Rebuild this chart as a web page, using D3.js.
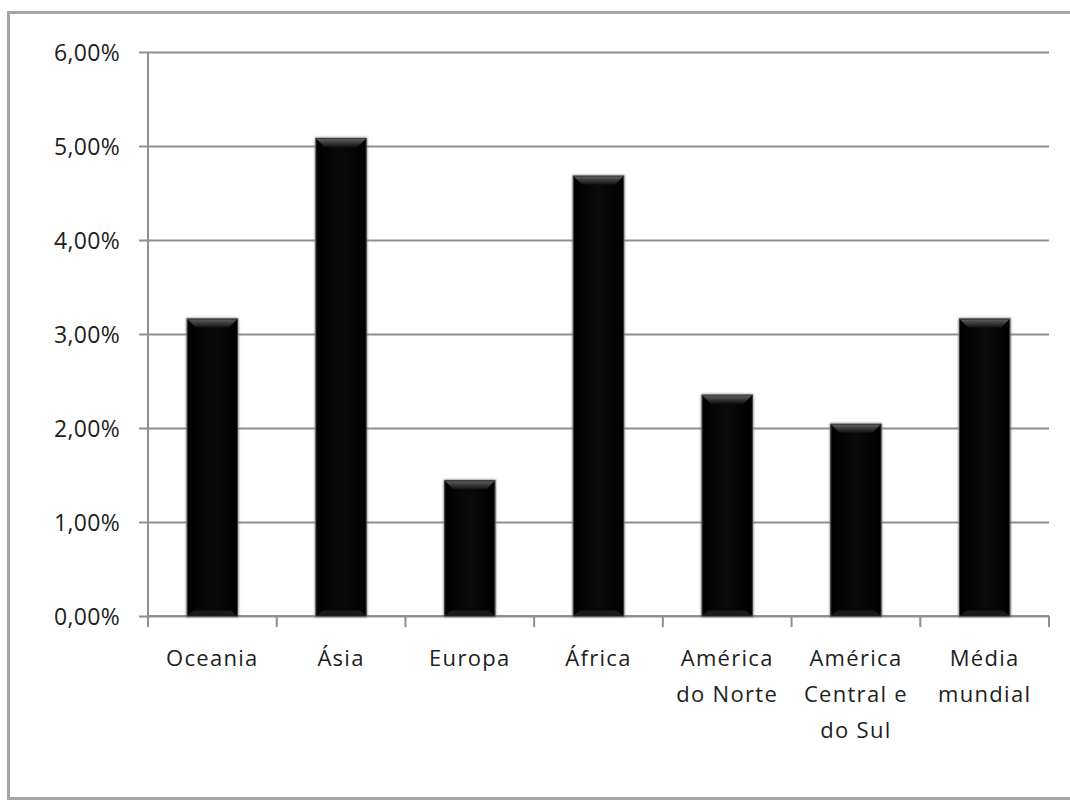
<!DOCTYPE html>
<html>
<head>
<meta charset="utf-8">
<script src="https://cdn.jsdelivr.net/npm/d3@7"></script>
<style>
html,body{margin:0;padding:0;background:#fff;}
svg{display:block;}
text{font-family:"Open Sans",sans-serif;fill:#1e1e1e;}
</style>
</head>
<body>
<svg id="chart" width="1070" height="800"></svg>
<script>
const categories = ["Oceania", "Ásia", "Europa", "África", "América\ndo Norte", "América\nCentral e\ndo Sul", "Média\nmundial"];
const values = [0.0316, 0.0508, 0.0144, 0.0468, 0.0235, 0.0204, 0.0316];
const yTicks = [0, 0.01, 0.02, 0.03, 0.04, 0.05, 0.06];
const yTickLabels = ["0,00%", "1,00%", "2,00%", "3,00%", "4,00%", "5,00%", "6,00%"];

(function(){
const svg = d3.select("#chart");
const pLeft = 148, pRight = 1049, pTop = 52, pBottom = 616;

// outer frame
svg.append("path")
  .attr("d", `M1072,12.5 H8.5 V798.5 H1072`)
  .attr("fill", "none").attr("stroke", "#a6a6a6").attr("stroke-width", 3);

const x = d3.scaleBand().domain(categories).range([pLeft, pRight]).paddingInner(0.61).paddingOuter(0.305);
const xb = d3.scaleBand().domain(categories).range([pLeft, pRight]);
const y = d3.scaleLinear().domain([0, 0.06]).range([pBottom, pTop]);

const defs = svg.append("defs");
const bev = defs.append("linearGradient").attr("id","bevTop").attr("x1",0).attr("y1",0).attr("x2",0).attr("y2",1);
bev.append("stop").attr("offset","0%").attr("stop-color","#5e5e5e");
bev.append("stop").attr("offset","100%").attr("stop-color","#111");
const bodyG = defs.append("linearGradient").attr("id","bodyG").attr("x1",0).attr("y1",0).attr("x2",1).attr("y2",0);
bodyG.append("stop").attr("offset","0%").attr("stop-color","#000");
bodyG.append("stop").attr("offset","50%").attr("stop-color","#0a0a0a");
bodyG.append("stop").attr("offset","100%").attr("stop-color","#000");
const blur = defs.append("filter").attr("id","soft").attr("x","-20%").attr("y","-20%").attr("width","140%").attr("height","140%");
blur.append("feGaussianBlur").attr("stdDeviation",1.2);

// gridlines + y axis ticks
const yAxis = d3.axisLeft(y).tickValues(yTicks).tickFormat((d,i)=>yTickLabels[i]).tickSize(-(pRight-pLeft)).tickSizeOuter(0).tickPadding(28);
const gy = svg.append("g").attr("transform", `translate(${pLeft},0)`).call(yAxis);
gy.select(".domain").remove();
gy.selectAll(".tick line").attr("stroke","#8f8f8f").attr("stroke-width",2).attr("x1",-9);
gy.selectAll(".tick text").attr("font-size",23).attr("fill","#1e1e1e").attr("dy","0.36em").attr("letter-spacing","0.3px");

// y axis line
svg.append("line").attr("x1",pLeft).attr("x2",pLeft).attr("y1",pTop).attr("y2",pBottom+10)
  .attr("stroke","#8f8f8f").attr("stroke-width",2);

// x axis
const xAxis = d3.axisBottom(xb).tickSize(0).tickFormat("");
const gx = svg.append("g").attr("transform", `translate(0,${pBottom})`).call(xAxis);
gx.select(".domain").remove();
svg.append("line").attr("x1",pLeft).attr("x2",pRight).attr("y1",pBottom).attr("y2",pBottom)
  .attr("stroke","#8f8f8f").attr("stroke-width",2);
const boundaries = categories.map(c => xb(c)).concat([pRight]);
svg.append("g").selectAll("line").data(boundaries).join("line")
  .attr("x1",d=>d).attr("x2",d=>d).attr("y1",pBottom).attr("y2",pBottom+11)
  .attr("stroke","#8f8f8f").attr("stroke-width",2);

// bars
const bars = svg.append("g").selectAll("g").data(categories).join("g");
bars.append("rect")
  .attr("x", d => x(d)-1).attr("y", (d,i)=> y(values[i])-1)
  .attr("width", x.bandwidth()+2).attr("height", (d,i)=> pBottom - y(values[i]) + 2)
  .attr("fill","#777").attr("filter","url(#soft)");
bars.append("rect")
  .attr("x", d => x(d)).attr("y", (d,i)=> y(values[i]))
  .attr("width", x.bandwidth()).attr("height", (d,i)=> pBottom - y(values[i]))
  .attr("fill","url(#bodyG)").attr("stroke","#3a3a3a").attr("stroke-width",1);
bars.append("path")
  .attr("d", (d,i) => {
    const x0 = x(d)+0.5, x1 = x(d)+x.bandwidth()-0.5, y0 = y(values[i])+0.5;
    return `M${x0},${y0} H${x1} L${x1-8},${y0+8} H${x0+8} Z`;
  })
  .attr("fill","url(#bevTop)");
bars.append("path")
  .attr("d", (d,i) => {
    const x0 = x(d)+0.5, x1 = x(d)+x.bandwidth()-0.5, yb = pBottom-0.5;
    return `M${x0},${yb} H${x1} L${x1-6},${yb-5} H${x0+6} Z`;
  })
  .attr("fill","#1a1a1a");

// category labels
const lab = svg.append("g").selectAll("text").data(categories).join("text")
  .attr("x", d => xb(d) + xb.bandwidth()/2)
  .attr("y", 666)
  .attr("text-anchor","middle")
  .attr("font-size",22)
  .attr("letter-spacing","1.3px");
lab.each(function(d){
  const t = d3.select(this);
  d.split("\n").forEach((line,i)=>{
    t.append("tspan").attr("x", xb(d)+xb.bandwidth()/2).attr("dy", i===0?0:36).text(line);
  });
});
})();
</script>
</body>
</html>
